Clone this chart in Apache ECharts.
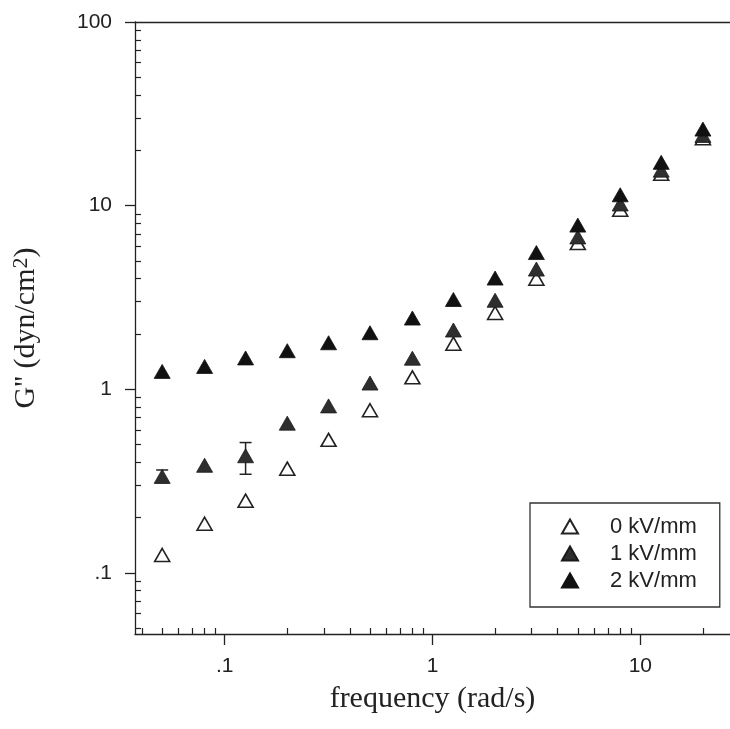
<!DOCTYPE html>
<html>
<head>
<meta charset="utf-8">
<script src="https://cdn.jsdelivr.net/npm/echarts@6/dist/echarts.min.js"></script>
<style>
html,body{margin:0;padding:0;background:#fff;}
#chart{width:730px;height:729px;}
</style>
</head>
<body>
<div id="chart"></div>
<script>
// ---- data ----
const freq = [0.05, 0.08, 0.126, 0.2, 0.316, 0.5, 0.8, 1.26, 2, 3.16, 5, 8, 12.6, 20];
const g0kV = [0.125, 0.185, 0.247, 0.369, 0.53, 0.768, 1.16, 1.77, 2.6, 4.0, 6.25, 9.5, 14.9, 23.3];
const g1kV = [0.335, 0.385, 0.434, 0.653, 0.811, 1.08, 1.475, 2.10, 3.05, 4.51, 6.75, 10.2, 15.6, 24.1];
const g2kV = [1.25, 1.33, 1.48, 1.62, 1.79, 2.03, 2.44, 3.08, 4.03, 5.55, 7.83, 11.45, 17.2, 26.1];
const errFreq = [0.05, 0.126];
const errLow = [0.31, 0.344];
const errHigh = [0.363, 0.512];
const seriesNames = ['0 kV/mm', '1 kV/mm', '2 kV/mm'];
const xMajorTicks = [0.1, 1, 10];
const xMinorTicks = [0.04, 0.05, 0.06, 0.07, 0.08, 0.09, 0.2, 0.3, 0.4, 0.5, 0.6, 0.7, 0.8, 0.9, 2, 3, 4, 5, 6, 7, 8, 9, 20];
const yMajorTicks = [0.1, 1, 10, 100];
const yMinorTicks = [0.05, 0.06, 0.07, 0.08, 0.09, 0.2, 0.3, 0.4, 0.5, 0.6, 0.7, 0.8, 0.9, 2, 3, 4, 5, 6, 7, 8, 9, 20, 30, 40, 50, 60, 70, 80, 90];
const xRange = [0.037, 27];
const yRange = [0.0464, 100];

// ---- chart ----
const ink = '#222';
const sans = 'Liberation Sans, Arial, sans-serif';
const serif = 'Liberation Serif, Times New Roman, serif';
const fmt = v => { const s = String(v); return v < 1 ? s.replace(/^0/, '') : s; };

const pairs = ys => freq.map((f, i) => [f, ys[i]]);
const errData = errFreq.map((f, i) => [f, errLow[i], errHigh[i]]);

const baseLine = { show: true, onZero: false, lineStyle: { color: ink, width: 1.3 } };

const chart = echarts.init(document.getElementById('chart'), null, { renderer: 'canvas' });
chart.setOption({
  backgroundColor: '#fff',
  animation: false,
  grid: { left: 135, right: 0, top: 22, bottom: 95, containLabel: false },
  xAxis: [
    {
      type: 'log', logBase: 10, min: xRange[0], max: xRange[1], position: 'bottom',
      name: 'frequency (rad/s)', nameLocation: 'middle', nameGap: 50,
      nameTextStyle: { fontFamily: serif, fontSize: 30, color: ink },
      axisLine: baseLine,
      axisTick: { show: true, inside: false, length: 11, customValues: xMajorTicks, lineStyle: { color: ink, width: 1.3 } },
      axisLabel: { show: true, customValues: xMajorTicks, formatter: fmt, margin: 22, fontFamily: sans, fontSize: 21, color: ink },
      splitLine: { show: false }, minorTick: { show: false }
    },
    {
      type: 'log', logBase: 10, min: xRange[0], max: xRange[1], position: 'bottom',
      axisLine: { show: false },
      axisTick: { show: true, inside: true, length: 6, customValues: xMinorTicks, lineStyle: { color: ink, width: 1.2 } },
      axisLabel: { show: false }, splitLine: { show: false }
    },
    {
      type: 'log', logBase: 10, min: xRange[0], max: xRange[1], position: 'top',
      axisLine: baseLine, axisTick: { show: false }, axisLabel: { show: false }, splitLine: { show: false }
    }
  ],
  yAxis: [
    {
      type: 'log', logBase: 10, min: yRange[0], max: yRange[1], position: 'left',
      name: '{t|G\'\' (dyn/cm}{s|2}{t|)}', nameLocation: 'middle', nameGap: 92,
      nameTextStyle: {
        rich: {
          t: { fontFamily: serif, fontSize: 30, color: ink },
          s: { fontFamily: serif, fontSize: 22, color: ink, verticalAlign: 'top', padding: [0, 0, 11, 0] }
        }
      },
      axisLine: baseLine,
      axisTick: { show: true, inside: false, length: 10, customValues: yMajorTicks, lineStyle: { color: ink, width: 1.3 } },
      axisLabel: { show: true, customValues: yMajorTicks, formatter: fmt, margin: 23, fontFamily: sans, fontSize: 21, color: ink },
      splitLine: { show: false }, minorTick: { show: false }
    },
    {
      type: 'log', logBase: 10, min: yRange[0], max: yRange[1], position: 'left',
      axisLine: { show: false },
      axisTick: { show: true, inside: true, length: 6, customValues: yMinorTicks, lineStyle: { color: ink, width: 1.2 } },
      axisLabel: { show: false }, splitLine: { show: false }
    }
  ],
  legend: {
    orient: 'vertical', left: 530, top: 503,
    padding: [10, 23, 13, 31], itemGap: 0, itemWidth: 16, itemHeight: 14,
    borderColor: '#333', borderWidth: 1.3, backgroundColor: '#fff',
    data: seriesNames,
    textStyle: { fontFamily: sans, fontSize: 22, color: ink, lineHeight: 27, padding: [0, 0, 0, 27] }
  },
  series: [
    {
      name: seriesNames[0], type: 'scatter', xAxisIndex: 0, yAxisIndex: 0,
      symbol: 'triangle', symbolSize: [15, 13],
      itemStyle: { color: '#fff', borderColor: ink, borderWidth: 1.6, opacity: 1 },
      data: pairs(g0kV), z: 2
    },
    {
      type: 'custom', xAxisIndex: 0, yAxisIndex: 0, z: 3, silent: true,
      data: errData,
      encode: { x: 0, y: [1, 2] },
      renderItem: function (params, api) {
        const x = api.value(0);
        const lo = api.coord([x, api.value(1)]);
        const hi = api.coord([x, api.value(2)]);
        const w = 6;
        const st = { stroke: ink, lineWidth: 1.5 };
        return {
          type: 'group',
          children: [
            { type: 'line', shape: { x1: lo[0], y1: lo[1], x2: hi[0], y2: hi[1] }, style: st },
            { type: 'line', shape: { x1: lo[0] - w, y1: lo[1], x2: lo[0] + w, y2: lo[1] }, style: st },
            { type: 'line', shape: { x1: hi[0] - w, y1: hi[1], x2: hi[0] + w, y2: hi[1] }, style: st }
          ]
        };
      }
    },
    {
      name: seriesNames[1], type: 'scatter', xAxisIndex: 0, yAxisIndex: 0,
      symbol: 'triangle', symbolSize: [16, 14],
      itemStyle: { color: '#2e2e2e', borderColor: '#1a1a1a', borderWidth: 0.8, opacity: 1 },
      data: pairs(g1kV), z: 4
    },
    {
      name: seriesNames[2], type: 'scatter', xAxisIndex: 0, yAxisIndex: 0,
      symbol: 'triangle', symbolSize: [16, 14],
      itemStyle: { color: '#111', borderColor: '#111', borderWidth: 0.8, opacity: 1 },
      data: pairs(g2kV), z: 5
    }
  ]
});
</script>
</body>
</html>
